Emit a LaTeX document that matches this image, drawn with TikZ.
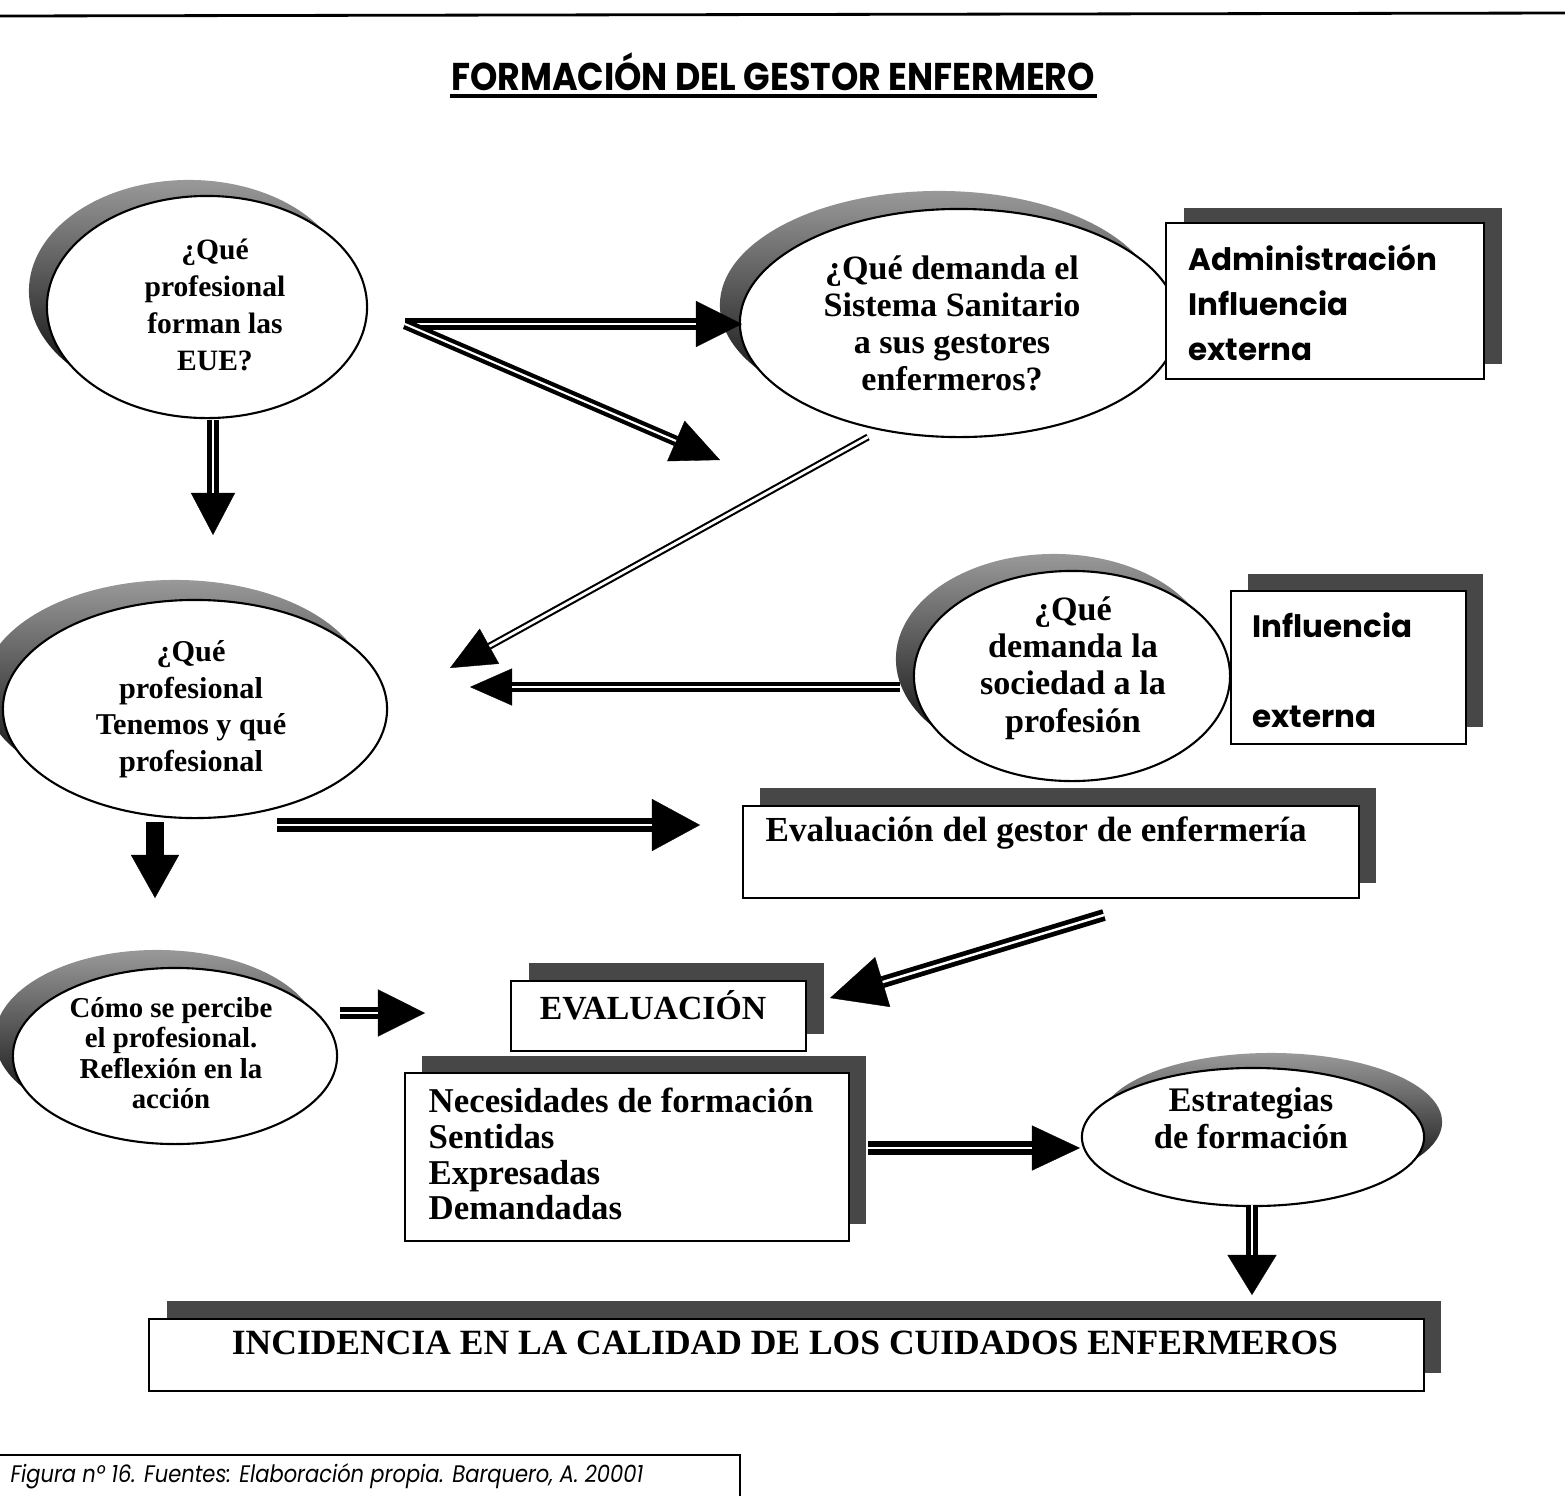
\documentclass[tikz,border=0pt]{standalone}
\usepackage{fontspec}
\setmainfont{Liberation Serif}
\newfontfamily\comicfont{Poppins}
\usetikzlibrary{arrows.meta,shapes.geometric}
\newcommand\setfs[2]{\fontsize{#1pt}{#2pt}\selectfont}

\begin{document}
\begin{tikzpicture}[x=0.01cm,y=-0.01cm,
  outline/.style={draw=black, line width=0.6pt},
  bubble/.style={ellipse, outline, fill=white, inner sep=0pt},
  bubbleshade/.style={ellipse, inner sep=0pt, top color=black!40, middle color=black, bottom color=black},
  card/.style={rectangle, outline, fill=white, inner sep=0pt, anchor=north west},
  cardshade/.style={rectangle, fill=black!72, inner sep=0pt, anchor=north west},
  qtext/.style={align=center, inner sep=0pt, font=\bfseries},
  ltext/.style={align=left, inner sep=0pt, anchor=west},
  pipe/.style args={#1/#2/#3/#4}{draw=black, line width=#1,
    -{Triangle[length=#3, width=#4, line width=0.1pt]},
    postaction={draw=white, line width=#2, -, shorten >=#3}},
  solidpipe/.style args={#1/#2/#3}{draw=black, line width=#1,
    -{Triangle[length=#2, width=#3, line width=0.1pt]}},
]
\useasboundingbox (0,0) rectangle (1565,1496);
\fill[white] (0,0) rectangle (1565,1496);

% page rule and title
\draw[line width=0.8pt] (0,16) -- (1565,13);
\node[font=\comicfont\bfseries\setfs{11}{13}, inner sep=0pt, xscale=0.9] (title) at (773,72) {FORMACIÓN DEL GESTOR ENFERMERO};
\draw[line width=0.9pt] (450,96) -- (1097,96);

% ---------- ellipses with shadows ----------
\node[bubbleshade, minimum width=3.2cm, minimum height=2.22cm] (e1s) at (189,291) {};
\node[bubble, minimum width=3.2cm, minimum height=2.22cm] (e1) at (207,307) {};
\node[qtext, font=\bfseries\setfs{8.4}{10.5}] (t1) at (215,305) {¿Qué\\profesional\\forman las\\EUE?};

\node[bubbleshade, minimum width=4.38cm, minimum height=2.28cm] (e2s) at (939,305) {};
\node[bubble, minimum width=4.38cm, minimum height=2.28cm] (e2) at (959,323) {};
\node[qtext, font=\bfseries\setfs{9.7}{10.5}] (t2) at (952,323) {¿Qué demanda el\\Sistema Sanitario\\a sus gestores\\enfermeros?};

\node[bubbleshade, minimum width=3.84cm, minimum height=2.18cm] (e3s) at (175,689) {};
\node[bubble, minimum width=3.84cm, minimum height=2.18cm] (e3) at (195,709) {};
\node[qtext, font=\bfseries\setfs{8.6}{10.4}] (t3) at (191,709) {¿Qué\\profesional\\Tenemos y qué\\profesional};

\node[bubbleshade, minimum width=3.16cm, minimum height=2.1cm] (e4s) at (1054,659) {};
\node[bubble, minimum width=3.16cm, minimum height=2.1cm] (e4) at (1072,676) {};
\node[qtext, font=\bfseries\setfs{9.7}{10.6}] (t4) at (1073,668) {¿Qué\\demanda la\\sociedad a la\\profesión};

\node[bubbleshade, minimum width=3.24cm, minimum height=1.76cm] (e5s) at (157,1038) {};
\node[bubble, minimum width=3.24cm, minimum height=1.76cm] (e5) at (175,1056) {};
\node[qtext, font=\bfseries\setfs{8.2}{8.6}] (t5) at (171,1053) {Cómo se percibe\\el profesional.\\Reflexión en la\\acción};

\node[bubbleshade, minimum width=3.42cm, minimum height=1.38cm] (e6s) at (1271,1122) {};
\node[bubble, minimum width=3.42cm, minimum height=1.38cm] (e6) at (1253,1137) {};
\node[qtext, font=\bfseries\setfs{9.8}{10.5}] (t6) at (1251,1118) {Estrategias\\de formación};

% ---------- boxes with shadows ----------
\node[cardshade, minimum width=3.18cm, minimum height=1.56cm] (b1s) at (1183,207) {};
\node[card, minimum width=3.18cm, minimum height=1.56cm] (b1) at (1165,222) {};
\node[ltext, font=\comicfont\bfseries\setfs{8.8}{12.8}] (tb1) at (1188,303) {Administración\\Influencia\\externa};

\node[cardshade, minimum width=2.35cm, minimum height=1.53cm] (b2s) at (1247,573) {};
\node[card, minimum width=2.35cm, minimum height=1.53cm] (b2) at (1230,590) {};
\node[ltext, font=\comicfont\bfseries\setfs{8.8}{12.8}] (tb2) at (1252,670) {Influencia\\[12.8pt]externa};

\node[cardshade, minimum width=6.16cm, minimum height=0.95cm] (b3s) at (759,787) {};
\node[card, minimum width=6.16cm, minimum height=0.92cm] (b3) at (742,805) {};
\node[ltext, font=\bfseries\setfs{10}{12}] (tb3) at (765,833) {Evaluación del gestor de enfermería};

\node[cardshade, minimum width=2.95cm, minimum height=0.71cm] (evs) at (528,962) {};
\node[card, minimum width=2.95cm, minimum height=0.7cm] (ev) at (510,980) {};
\node[qtext, font=\bfseries\setfs{9.6}{11}] (tev) at (653,1005) {EVALUACIÓN};

\node[cardshade, minimum width=4.44cm, minimum height=1.68cm] (nes) at (421,1055) {};
\node[card, minimum width=4.44cm, minimum height=1.68cm] (ne) at (404,1072) {};
\node[ltext, font=\bfseries\setfs{9.9}{10.2}] (tne) at (428,1154) {Necesidades de formación\\Sentidas\\Expresadas\\Demandadas};

\node[cardshade, minimum width=12.74cm, minimum height=0.72cm] (ins) at (166,1300) {};
\node[card, minimum width=12.74cm, minimum height=0.72cm] (in) at (148,1318) {};
\node[qtext, font=\bfseries\setfs{10.1}{12}] (tin) at (785,1343) {INCIDENCIA EN LA CALIDAD DE LOS CUIDADOS ENFERMEROS};

% ---------- connector end points ----------
\coordinate (fork) at (405,324);
\coordinate (a1end) at (742,324);
\coordinate (a2end) at (720,460);
\coordinate (a3beg) at (213,420);
\coordinate (a3end) at (213,535);
\coordinate (a4beg) at (868,437);
\coordinate (a4end) at (450,668);
\coordinate (a5beg) at (900,687);
\coordinate (a5end) at (470,687);
\coordinate (a6beg) at (277,825);
\coordinate (a6end) at (700,825);
\coordinate (a7beg) at (155,822);
\coordinate (a7end) at (155,898);
\coordinate (a8beg) at (1104,915);
\coordinate (a8end) at (830,998);
\coordinate (a9beg) at (340,1013);
\coordinate (a9end) at (425,1013);
\coordinate (a10beg) at (868,1148);
\coordinate (a10end) at (1080,1148);
\coordinate (a11beg) at (1252,1205);
\coordinate (a11end) at (1252,1295);

% ---------- connectors ----------
\draw[pipe=3.4pt/0.7pt/0.46cm/0.46cm] (fork) -- (a1end);
\draw[pipe=3.0pt/0.6pt/0.48cm/0.44cm] (fork) -- (a2end);
\draw[pipe=3.2pt/0.7pt/0.42cm/0.44cm] (a3beg) -- (a3end);
\draw[pipe=2.0pt/0.8pt/0.45cm/0.40cm] (a4beg) -- (a4end);
\draw[pipe=3.0pt/0.7pt/0.42cm/0.37cm] (a5beg) -- (a5end);
\draw[pipe=3.8pt/0.7pt/0.48cm/0.52cm] (a6beg) -- (a6end);
\draw[solidpipe=5pt/0.43cm/0.48cm] (a7beg) -- (a7end);
\draw[pipe=3.4pt/0.7pt/0.55cm/0.52cm] (a8beg) -- (a8end);
\draw[pipe=3.4pt/0.7pt/0.47cm/0.47cm] (a9beg) -- (a9end);
\draw[pipe=3.8pt/0.7pt/0.48cm/0.45cm] (a10beg) -- (a10end);
\draw[pipe=3.4pt/0.7pt/0.40cm/0.49cm] (a11beg) -- (a11end);

% ---------- source note ----------
\draw[line width=0.6pt] (0,1455) -- (740,1455) -- (740,1496);
\node[ltext, font=\comicfont\itshape\setfs{6.8}{8}, xscale=0.88] (src) at (10,1476) {Figura nº 16. Fuentes: Elaboración propia. Barquero, A. 20001};
\end{tikzpicture}
\end{document}
